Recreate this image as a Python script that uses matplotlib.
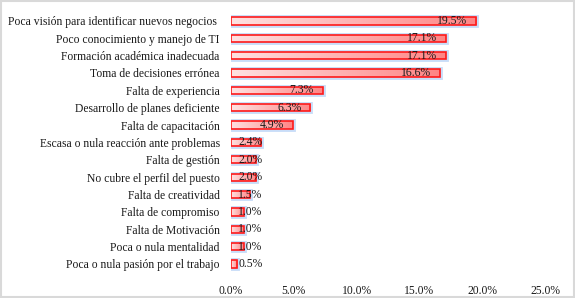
import numpy as np
import matplotlib.pyplot as plt
from matplotlib.patches import Rectangle
from matplotlib.colors import LinearSegmentedColormap

# data (top to bottom)
causas = [
    "Poca visión para identificar nuevos negocios ",
    "Poco conocimiento y manejo de TI",
    "Formación académica inadecuada",
    "Toma de decisiones errónea",
    "Falta de experiencia",
    "Desarrollo de planes deficiente",
    "Falta de capacitación",
    "Escasa o nula reacción ante problemas",
    "Falta de gestión",
    "No cubre el perfil del puesto",
    "Falta de creatividad",
    "Falta de compromiso",
    "Falta de Motivación",
    "Poca o nula mentalidad",
    "Poca o nula pasión por el trabajo",
]
porcentajes = [19.5, 17.1, 17.1, 16.6, 7.3, 6.3, 4.9, 2.4, 2.0, 2.0, 1.5, 1.0, 1.0, 1.0, 0.5]
xticks = [0, 5, 10, 15, 20, 25]

plt.rcParams["font.family"] = "Liberation Serif"
fs = 8.4

fig = plt.figure(figsize=(5.75, 2.98), dpi=100)
ax = fig.add_axes([0.4017, 0.085, 0.5463, 0.874])

y = np.arange(len(causas))
h = 0.42
grad = LinearSegmentedColormap.from_list("g", ["#fde2e2", "#ff8585"])
gimg = np.linspace(0, 1, 256).reshape(1, -1)

# glow behind bars
ax.barh(y, porcentajes, height=h, color="none", edgecolor="#c9ddf8", linewidth=3.5, zorder=1)

for yi, v in zip(y, porcentajes):
    rect = Rectangle((0, yi - h / 2), v, h, facecolor="none", edgecolor="none")
    ax.add_patch(rect)
    im = ax.imshow(gimg, cmap=grad, aspect="auto", extent=(0, v, yi - h / 2, yi + h / 2),
                   zorder=2, interpolation="bilinear")
    im.set_clip_path(rect)

ax.barh(y, porcentajes, height=h, color="none", edgecolor="#ff1a1a", linewidth=1.2, zorder=3)

for yi, v in zip(y, porcentajes):
    ax.text(max(v - 0.7, 2.5), yi, f"{v:.1f}%", ha="right", va="center",
            fontsize=fs, color="#1a1a1a", zorder=4)

ax.set_xlim(0, 25)
ax.set_ylim(len(causas) - 0.5, -0.5)
ax.set_yticks(y)
ax.set_yticklabels(causas, fontsize=fs, color="#1a1a1a")
ax.set_xticks(xticks)
ax.set_xticklabels([f"{t:.1f}%" for t in xticks], fontsize=fs, color="#1a1a1a")
ax.tick_params(axis="both", length=0)
ax.tick_params(axis="x", pad=9)
ax.tick_params(axis="y", pad=8)
for s in ax.spines.values():
    s.set_visible(False)

# outer frame
fig.patches.append(Rectangle((0.002, 0.004), 0.996, 0.992, transform=fig.transFigure,
                             fill=False, edgecolor="#d9d9d9", linewidth=1.5))

fig.savefig("out.png", dpi=100)
